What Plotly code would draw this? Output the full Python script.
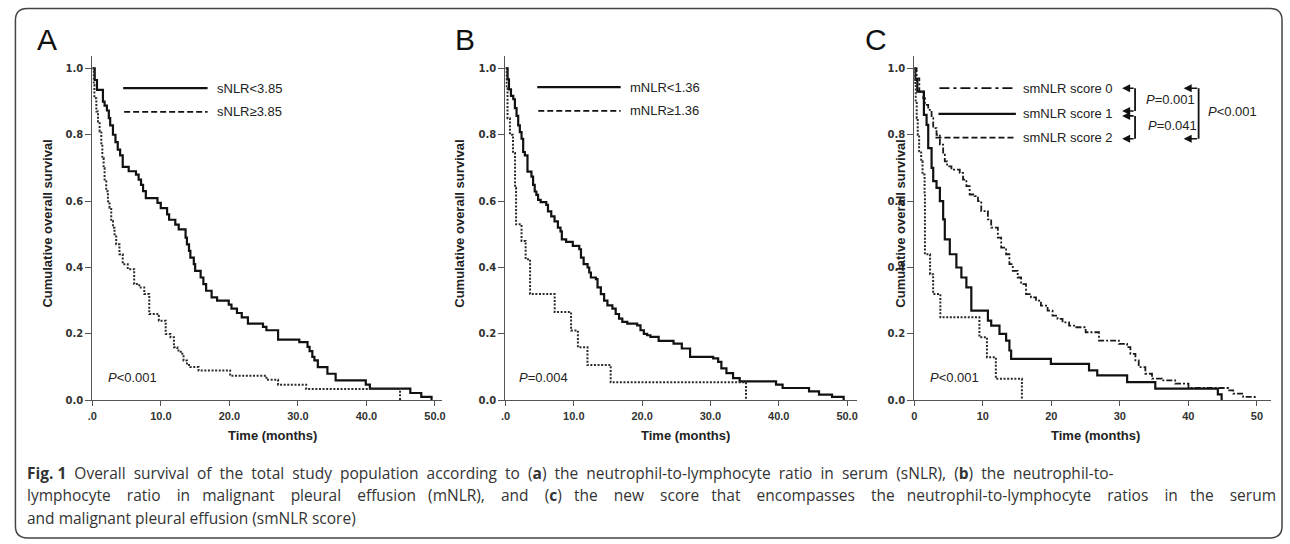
import plotly.graph_objects as go

W, H = 1290, 544

# ---------------- data ----------------
# Panel A: serum NLR
a_low_t = [0, 0.34, 0.67, 1.54, 1.78, 2.12, 2.4, 2.6, 3.0, 3.37, 3.7, 4.05, 4.43, 5.3, 6.36, 6.75, 7.1, 7.4, 7.8, 9.5,
           9.98, 10.9, 11.2, 12.1, 12.6, 13.6, 13.8, 14.1, 14.3, 14.8, 15.0, 15.8, 16.2, 16.6, 17.4, 18.2, 19.9, 20.3,
           21.1, 21.8, 22.7, 24.9, 25.4, 27.1, 30.2, 31.4, 31.7, 32.1, 32.4, 32.9, 34.3, 35.5, 39.9, 40.5, 46.4, 48.0, 49.5]
a_low_s = [1.0, 0.965, 0.935, 0.90, 0.888, 0.873, 0.85, 0.828, 0.80, 0.778, 0.755, 0.738, 0.703, 0.69, 0.68, 0.665, 0.649, 0.63, 0.609, 0.595,
           0.579, 0.56, 0.544, 0.529, 0.515, 0.49, 0.47, 0.45, 0.43, 0.41, 0.39, 0.37, 0.35, 0.33, 0.31, 0.30, 0.288, 0.276,
           0.263, 0.25, 0.231, 0.221, 0.211, 0.183, 0.175, 0.161, 0.148, 0.131, 0.12, 0.10, 0.08, 0.06, 0.047, 0.035, 0.022, 0.01, 0.0]
a_high_t = [0, 0.19, 0.29, 0.58, 0.82, 1.06, 1.3, 1.45, 1.64, 1.78, 2.02, 2.27, 2.5, 2.75, 3.0, 3.23, 3.47, 3.95, 4.43, 5.16,
            6.1, 6.84, 7.57, 8.3, 9.7, 10.7, 11.4, 11.9, 12.4, 12.9, 13.3, 13.8, 14.3, 15.5, 20.1, 25.4, 27.1, 31.2, 44.9]
a_high_s = [1.0, 0.95, 0.91, 0.87, 0.84, 0.81, 0.77, 0.73, 0.70, 0.66, 0.63, 0.60, 0.58, 0.54, 0.52, 0.50, 0.47, 0.44, 0.41, 0.395,
            0.35, 0.34, 0.32, 0.26, 0.24, 0.20, 0.19, 0.16, 0.15, 0.14, 0.12, 0.106, 0.10, 0.09, 0.074, 0.062, 0.047, 0.034, 0.0]

# Panel B: pleural effusion NLR
b_low_t = [0, 0.31, 0.51, 0.8, 1.14, 1.38, 1.62, 1.86, 2.1, 2.35, 2.59, 2.83, 3.22, 3.8, 4.04, 4.28, 4.52, 4.77, 5.15, 5.97,
           6.22, 6.7, 7.18, 7.67, 8.05, 8.25, 8.88, 9.85, 10.8, 11.05, 11.44, 12.02, 12.26, 12.5, 13.23, 13.47, 13.96, 14.44,
           14.92, 15.65, 16.13, 16.62, 17.1, 17.83, 19.28, 19.76, 20.25, 20.73, 21.21, 22.42, 24.6, 25.81, 27.02, 30.4,
           31.13, 31.6, 32.34, 33.31, 34.28, 39.6, 40.56, 44.43, 45.89, 47.8, 49.5]
b_low_s = [1.0, 0.967, 0.937, 0.917, 0.907, 0.88, 0.857, 0.828, 0.808, 0.788, 0.748, 0.738, 0.689, 0.674, 0.649, 0.629, 0.619, 0.604, 0.597, 0.589,
           0.569, 0.554, 0.539, 0.52, 0.509, 0.485, 0.477, 0.465, 0.455, 0.43, 0.41, 0.40, 0.385, 0.37, 0.365, 0.34, 0.32, 0.30,
           0.286, 0.276, 0.26, 0.246, 0.236, 0.231, 0.226, 0.211, 0.20, 0.196, 0.191, 0.179, 0.171, 0.156, 0.131, 0.126,
           0.116, 0.096, 0.082, 0.067, 0.057, 0.047, 0.037, 0.027, 0.017, 0.01, 0.0]
b_high_t = [0, 0.15, 0.3, 0.65, 1.1, 1.4, 1.55, 2.35, 2.95, 3.6, 7.2, 9.6, 10.6, 12.0, 15.4, 35.2]
b_high_s = [1.0, 0.94, 0.85, 0.80, 0.745, 0.64, 0.53, 0.48, 0.425, 0.32, 0.266, 0.21, 0.16, 0.106, 0.054, 0.0]

# Panel C: smNLR score
c0_t = [0, 0.34, 0.73, 1.31, 1.55, 2.03, 2.52, 2.76, 3.24, 3.73, 4.21, 4.45, 4.79, 5.42, 6.63, 7.11, 7.6, 8.08, 8.8, 9.29,
        9.77, 10.74, 11.22, 12.19, 12.68, 13.4, 13.88, 14.37, 15.09, 15.58, 16.3, 17.03, 17.76, 18.48, 19.45, 20.17,
        20.9, 21.63, 22.59, 23.32, 25.01, 26.95, 29.85, 31.06, 31.54, 32.27, 32.75, 33.72, 34.69, 36.14, 38.07, 40.01,
        45.81, 46.54, 47.99, 49.69]
c0_s = [1.0, 0.97, 0.93, 0.91, 0.89, 0.875, 0.85, 0.82, 0.80, 0.77, 0.74, 0.72, 0.705, 0.695, 0.685, 0.665, 0.645, 0.62, 0.615, 0.60,
        0.57, 0.545, 0.52, 0.49, 0.46, 0.44, 0.41, 0.39, 0.37, 0.35, 0.32, 0.31, 0.30, 0.285, 0.27, 0.255,
        0.245, 0.235, 0.225, 0.22, 0.205, 0.18, 0.17, 0.16, 0.14, 0.12, 0.10, 0.08, 0.065, 0.06, 0.05, 0.037,
        0.03, 0.02, 0.01, 0.0]
c1_t = [0, 0.15, 0.44, 1.4, 1.79, 2.03, 2.52, 2.76, 3.24, 3.73, 4.21, 4.45, 5.18, 6.14, 6.87, 7.6, 8.32, 10.74, 11.22,
        12.43, 13.4, 13.88, 14.13, 19.93, 25.5, 26.7, 31.06, 35.17, 44.3, 44.85]
c1_s = [1.0, 0.965, 0.93, 0.86, 0.83, 0.76, 0.70, 0.66, 0.64, 0.60, 0.545, 0.485, 0.44, 0.40, 0.37, 0.34, 0.27, 0.24, 0.225,
        0.20, 0.18, 0.15, 0.125, 0.11, 0.09, 0.075, 0.055, 0.035, 0.018, 0.0]
c2_t = [0, 0.1, 0.2, 0.35, 0.5, 0.7, 1.0, 1.2, 1.5, 1.55, 2.3, 2.75, 3.8, 9.5, 10.6, 11.9, 15.7]
c2_s = [1.0, 0.95, 0.90, 0.85, 0.80, 0.75, 0.72, 0.68, 0.62, 0.44, 0.38, 0.32, 0.25, 0.19, 0.13, 0.065, 0.0]

x_ticks = [0, 10, 20, 30, 40, 50]
x_ticktext_ab = ['.0', '10.0', '20.0', '30.0', '40.0', '50.0']
x_ticktext_c = ['0', '10', '20', '30', '40', '50']
y_ticks = [0, 0.2, 0.4, 0.6, 0.8, 1.0]
y_ticktext = ['0.0', '0.2', '0.4', '0.6', '0.8', '1.0']

panel_letters = ['A', 'B', 'C']
p_values = ['<i>P</i>&lt;0.001', '<i>P</i>=0.004', '<i>P</i>&lt;0.001']
legend_a = ['sNLR&lt;3.85', 'sNLR≥3.85']
legend_b = ['mNLR&lt;1.36', 'mNLR≥1.36']
legend_c = ['smNLR score 0', 'smNLR score 1', 'smNLR score 2']
pair_p = ['<i>P</i>=0.001', '<i>P</i>=0.041', '<i>P</i>&lt;0.001']
y_title = 'Cumulative overall survival'
x_title = 'Time (months)'
caption_lines = [
    '<b>Fig. 1</b> Overall survival of the total study population according to (<b>a</b>) the neutrophil-to-lymphocyte ratio in serum (sNLR), (<b>b</b>) the neutrophil-to-',
    'lymphocyte ratio in malignant pleural effusion (mNLR), and (<b>c</b>) the new score that encompasses the neutrophil-to-lymphocyte ratios in the serum',
    'and malignant pleural effusion (smNLR score)',
]
# extra word spacing (number of added non-breaking spaces per gap, cycled) - the printed caption is justified
caption_gap_pattern = [[1], [3, 3, 2], [0]]

# ---------------- helpers ----------------
def px(x):
    return x / W

def py(y):
    return 1 - y / H

BLACK = '#111111'
SOLID = dict(color=BLACK, width=2.2)
DOTTED = dict(color='#2a2a2a', width=2, dash='2px,1.6px')
DASHDOT = dict(color='#1a1a1a', width=1.8, dash='6px,2px,2px,2px')

fig = go.Figure()

def add_curve(t, s, line, ax):
    fig.add_trace(go.Scatter(x=t, y=s, mode='lines', line=dict(shape='hv', **line),
                             xaxis='x' + ax, yaxis='y' + ax, showlegend=False, hoverinfo='skip'))

add_curve(a_low_t, a_low_s, SOLID, '')
add_curve(a_high_t, a_high_s, DOTTED, '')
add_curve(b_low_t, b_low_s, SOLID, '2')
add_curve(b_high_t, b_high_s, DOTTED, '2')
add_curve(c0_t, c0_s, DASHDOT, '3')
add_curve(c1_t, c1_s, SOLID, '3')
add_curve(c2_t, c2_s, DOTTED, '3')

# axis geometry (pixels)
y_top, y_bot = 57, 404
y_max = (y_bot - y_top) / 335.0
panels = [  # x0 pixel, px per month, x max
    (88.0, 6.9, 51.0),
    (504.0, 6.88, 51.5),
    (915.7, 6.9, 52.0),
]

xtick_font = dict(family='Liberation Sans, Arial', size=11, color='#333333', weight='bold')
ytick_font = dict(family='DejaVu Sans', size=10, color='#333333', weight='bold')
axcol = '#555555'

layout = dict(width=W, height=H, margin=dict(l=0, r=0, t=0, b=0),
              paper_bgcolor='white', plot_bgcolor='white', showlegend=False)
for i, (x0, ppm, xmax) in enumerate(panels):
    suf = '' if i == 0 else str(i + 1)
    ysuf = 'y' + suf
    xsuf = 'x' + suf
    layout['xaxis' + suf] = dict(
        domain=[px(x0), px(x0 + ppm * xmax)], range=[0, xmax], anchor=ysuf,
        tickvals=x_ticks, ticktext=(x_ticktext_c if i == 2 else x_ticktext_ab),
        ticks='outside', ticklen=5, tickwidth=1.2, tickcolor=axcol,
        showline=True, linecolor=axcol, linewidth=1.3, showgrid=False, zeroline=False,
        tickfont=xtick_font, fixedrange=True)
    layout['yaxis' + suf] = dict(
        domain=[py(y_bot), py(y_top)], range=[0, y_max], anchor=xsuf,
        tickvals=y_ticks, ticktext=y_ticktext,
        ticks='outside', ticklen=6, tickwidth=1.2, tickcolor=axcol,
        showline=True, linecolor=axcol, linewidth=1.3, showgrid=False, zeroline=False,
        tickfont=ytick_font, fixedrange=True)
fig.update_layout(**layout)

ann = []
shapes = []
TXT = dict(family='Liberation Sans, Arial', size=13, color='#222222')

def text(x, y, t, font=TXT, xanchor='left', yanchor='middle', **kw):
    ann.append(dict(x=px(x), y=py(y), xref='paper', yref='paper', text=t, showarrow=False,
                    xanchor=xanchor, yanchor=yanchor, font=font, **kw))

def hline(x1, x2, y, dash='solid', width=2.2, color=BLACK):
    shapes.append(dict(type='line', xref='paper', yref='paper', x0=px(x1), x1=px(x2), y0=py(y), y1=py(y),
                       line=dict(color=color, width=width, dash=dash)))

def vline(x, y1, y2, width=1.8):
    shapes.append(dict(type='line', xref='paper', yref='paper', x0=px(x), x1=px(x), y0=py(y1), y1=py(y2),
                       line=dict(color=BLACK, width=width)))

def arrow(tip_x, tail_x, y):
    ann.append(dict(x=px(tip_x), y=py(y), xref='paper', yref='paper', text='', showarrow=True,
                    ax=tail_x - tip_x, ay=0, arrowhead=2, arrowsize=1, arrowwidth=1.6, arrowcolor=BLACK))

# panel letters
LET = dict(family='Liberation Sans, Arial', size=30, color='#111111')
for lx, lt in zip([30, 451, 864], panel_letters):
    text(lx, 40, lt, font=LET)

# axis titles
TITLE = dict(family='Liberation Sans, Arial', size=13, color='#222222', weight='bold')
for yx, (x0, ppm, xmax), xc in zip([43, 458, 902], panels, [269, 685, 1098]):
    text(yx, 226, y_title, font=TITLE, xanchor='center', textangle=-90)
    text(xc, 440, x_title, font=TITLE, xanchor='center')

# p-values in plots
for (xp, t) in zip([102, 516, 929], p_values):
    text(xp, 381, t)

# legends A and B
hline(119, 204, 89)
hline(120, 204, 113, dash='6px,3px', width=1.8)
text(211, 89, legend_a[0])
text(211, 113, legend_a[1])
hline(536, 620, 88)
hline(537, 620, 112, dash='6px,3px', width=1.8)
text(627, 88, legend_b[0])
text(627, 112, legend_b[1])

# legend C
hline(941, 1018, 89, dash='10px,4px,3px,4px', width=1.8)
hline(940, 1018, 115)
hline(937, 1018, 139, dash='6px,3px', width=1.8)
for yy, t in zip([89, 115, 139], legend_c):
    text(1023, yy, t)

# brackets in C
vline(1138, 89, 112)
vline(1138, 117, 140)
vline(1202, 89, 140)
for yy in [89, 112]:
    arrow(1125, 1138, yy)
for yy in [117, 140]:
    arrow(1125, 1138, yy)
for yy in [89, 140]:
    arrow(1187, 1202, yy)
text(1147, 100, pair_p[0])
text(1149, 127, pair_p[1])
text(1209, 113, pair_p[2])

# caption (justified look via extra non-breaking spaces)
CAP = dict(family='Open Sans', size=15.5, color='#333333')

def spaced(line, pattern):
    words = line.split(' ')
    out = words[0]
    for k, w in enumerate(words[1:]):
        extra = pattern[k % len(pattern)]
        if words[k] == '<b>Fig.':
            extra = 0
        out += ' ' + '&nbsp;' * extra + w
    return out

for yy, line, pat in zip([477, 500, 523], caption_lines, caption_gap_pattern):
    text(20, yy, spaced(line, pat), font=CAP)

# rounded frame
r = 12
L, T, R, B = 10.5, 8.5, 1286, 543
pts = [('M', L, B - r), ('L', L, T + r), ('Q', L, T, L + r, T), ('L', R - r, T), ('Q', R, T, R, T + r),
       ('L', R, B - r), ('Q', R, B, R - r, B), ('L', L + r, B), ('Q', L, B, L, B - r)]
path = ''
for p in pts:
    if p[0] == 'Q':
        path += 'Q{},{} {},{} '.format(px(p[1]), py(p[2]), px(p[3]), py(p[4]))
    else:
        path += '{}{},{} '.format(p[0], px(p[1]), py(p[2]))
path += 'Z'
shapes.append(dict(type='path', xref='paper', yref='paper', path=path, line=dict(color='#444444', width=1.5)))

fig.update_layout(annotations=ann, shapes=shapes)
fig.write_html(
    'out.html', config={'displayModeBar': False},
    post_script=("var d=document.getElementById('{plot_id}');"
                 "d.style.position='fixed';d.style.left='0px';d.style.top='0px';"
                 "document.documentElement.style.overflow='hidden';"
                 "document.body.style.margin='0';document.body.style.overflow='hidden';"))
